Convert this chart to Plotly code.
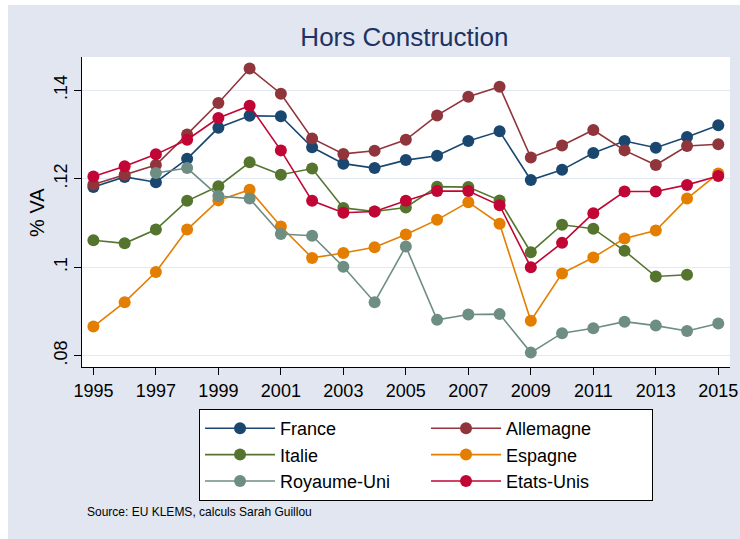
import plotly.graph_objects as go

# Part de la valeur ajoutée hors construction, par pays
years = list(range(1995, 2016))

france = [0.1181, 0.1204, 0.1192, 0.1245, 0.1315, 0.1342, 0.1341, 0.1271, 0.1234, 0.1224,
          0.1242, 0.1252, 0.1285, 0.1307, 0.1197, 0.1220, 0.1258, 0.1285, 0.1270, 0.1294, 0.1321]
allemagne = [0.1187, 0.1209, 0.1231, 0.1300, 0.1371, 0.1449, 0.1392, 0.1291, 0.1256, 0.1263,
             0.1288, 0.1343, 0.1385, 0.1408, 0.1248, 0.1275, 0.1310, 0.1264, 0.1231, 0.1274, 0.1278]
italie = [0.1061, 0.1054, 0.1085, 0.1150, 0.1183, 0.1237, 0.1209, 0.1223, 0.1134, 0.1126,
          0.1135, 0.1182, 0.1181, 0.1151, 0.1034, 0.1096, 0.1087, 0.1037, 0.0979, 0.0983, None]
espagne = [0.0866, 0.0921, 0.0989, 0.1085, 0.1151, 0.1175, 0.1092, 0.1021, 0.1032, 0.1045,
           0.1074, 0.1107, 0.1147, 0.1098, 0.0879, 0.0986, 0.1022, 0.1065, 0.1083, 0.1155, 0.1212]
royaume_uni = [None, None, 0.1213, 0.1224, 0.1161, 0.1155, 0.1075, 0.1071, 0.1001, 0.0921,
               0.1047, 0.0881, 0.0893, 0.0894, 0.0807, 0.0851, 0.0862, 0.0877, 0.0868, 0.0856, 0.0873]
etats_unis = [0.1205, 0.1228, 0.1255, 0.1288, 0.1337, 0.1365, 0.1264, 0.1150, 0.1123, 0.1126,
              0.1150, 0.1172, 0.1172, 0.1140, 0.1000, 0.1055, 0.1122, 0.1171, 0.1171, 0.1186, 0.1206]

series_names = ["France", "Allemagne", "Italie", "Espagne", "Royaume-Uni", "Etats-Unis"]
series_values = [france, allemagne, italie, espagne, royaume_uni, etats_unis]
series_colors = ["#1a476f", "#90353b", "#55752f", "#e37e00", "#6e8e84", "#c10534"]

x_ticks = list(range(1995, 2016, 2))
y_ticks = [0.08, 0.10, 0.12, 0.14]
y_tick_labels = [".08", ".1", ".12", ".14"]

FONT = "Liberation Sans, Arial, sans-serif"
BG = "#e1e6f0"

fig = go.Figure()
for name, vals, col in zip(series_names, series_values, series_colors):
    fig.add_trace(go.Scatter(
        x=years, y=vals, name=name, mode="lines+markers",
        line=dict(color=col, width=1.6),
        marker=dict(color=col, size=12),
        connectgaps=False,
    ))

fig.update_layout(
    width=740, height=539,
    margin=dict(l=82, r=10, t=57, b=172, autoexpand=False),
    paper_bgcolor=BG, plot_bgcolor="white",
    font=dict(family=FONT, color="black", size=18),
    title=dict(text="Hors Construction", x=0.5465, xanchor="center", y=0.931, yanchor="middle",
               font=dict(family=FONT, size=26, color="#1e3361")),
    xaxis=dict(range=[1994.635, 2015.375], tickvals=x_ticks, showgrid=False,
               showline=True, linecolor="black", linewidth=1,
               ticks="outside", ticklen=7, tickcolor="black", zeroline=False,
               tickfont=dict(size=18)),
    yaxis=dict(range=[0.07745, 0.1475], tickvals=y_ticks, ticktext=y_tick_labels,
               tickangle=-90, showgrid=True, gridcolor="#e3e8f2", gridwidth=1.2,
               showline=True, linecolor="black", linewidth=1,
               ticks="outside", ticklen=7, tickcolor="black", zeroline=False,
               tickfont=dict(size=18)),
    legend=dict(orientation="h", x=0.1806, y=-0.1355, xanchor="left", yanchor="top",
                bgcolor="white", bordercolor="black", borderwidth=1,
                entrywidth=141, entrywidthmode="pixels", itemwidth=70,
                font=dict(size=18), traceorder="normal"),
    showlegend=True,
)

# white strips along the top and left edges of the page
fig.add_shape(type="rect", xref="paper", yref="paper", x0=-0.2, x1=1.1, y0=1.1677, y1=1.3,
              fillcolor="white", line=dict(width=0), layer="below")
fig.add_shape(type="rect", xref="paper", yref="paper", x0=-0.2, x1=-0.1142, y0=-0.7, y1=1.3,
              fillcolor="white", line=dict(width=0), layer="below")

fig.add_annotation(text="% VA", textangle=-90, xref="paper", yref="paper",
                   x=-0.0695, y=0.5, xanchor="center", yanchor="middle", showarrow=False,
                   font=dict(size=20, color="black"))
fig.add_annotation(text="Source: EU KLEMS, calculs Sarah Guillou", xref="paper", yref="paper",
                   x=0.0046, y=-0.4677, xanchor="left", yanchor="middle", showarrow=False,
                   font=dict(size=12, color="black"))

fig.write_html("out.html")
